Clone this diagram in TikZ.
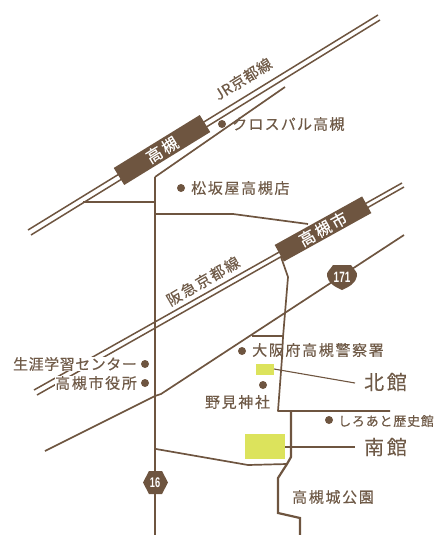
\documentclass[tikz,border=0pt]{standalone}
\usepackage{fontspec}
\setmainfont{Noto Sans CJK JP}
\newfontfamily\jpa[LetterSpace=11,FakeBold=0.25]{Noto Sans CJK JP}
\newfontfamily\jpb[LetterSpace=6,FakeBold=0.25]{Noto Sans CJK JP}
\newfontfamily\jpc[LetterSpace=3.5,FakeBold=0.25]{Noto Sans CJK JP}
\newfontfamily\jpe[LetterSpace=8,FakeBold=0.25]{Noto Sans CJK JP}
\newfontfamily\jpd[LetterSpace=14,FakeBold=0.25]{Noto Sans CJK JP}
\newfontfamily\numf[FakeStretch=0.66]{Liberation Sans Bold}
\definecolor{brownline}{HTML}{6E5540}
\definecolor{browntext}{HTML}{6F5A47}
\definecolor{hall}{HTML}{DCE35C}
\tikzset{
  railline/.style={draw=brownline,line width=1.5pt},
  road/.style={draw=brownline,line width=1.7pt,line join=round},
  mainroad/.style={draw=brownline,line width=2.2pt},
  leader/.style={draw=brownline,line width=1.1pt},
  label/.style={text=browntext,inner sep=0pt,font=\fontsize{15}{15}\selectfont\jpa},
  tightlabel/.style={text=browntext,inner sep=0pt,font=\fontsize{15}{15}\selectfont\jpc},
  widelabel/.style={text=browntext,inner sep=0pt,font=\fontsize{15}{15}\selectfont\jpe},
  smalllabel/.style={text=browntext,inner sep=0pt,font=\fontsize{13}{13}\selectfont\jpb},
  biglabel/.style={text=browntext,inner sep=0pt,font=\fontsize{20}{20}\selectfont\jpd},
  spot/.style={circle,fill=brownline,minimum size=8pt,inner sep=0pt},
  station/.style={fill=brownline,text=white,inner sep=0pt,minimum height=20pt,font=\fontsize{16}{16}\selectfont\jpd},
  hallbox/.style={fill=hall,inner sep=0pt},
  masked/.style={fill=white,minimum height=14pt},
}
\begin{document}
\begin{tikzpicture}[x=1pt,y=-1pt]
\useasboundingbox (0,0) rectangle (435,535);
% coordinates
\coordinate (jra) at (28,230); \coordinate (jrb) at (378,15);
\coordinate (jrc) at (31,235); \coordinate (jrd) at (380,20);
\coordinate (ra) at (155,177); \coordinate (rb) at (285,87);
\coordinate (v0) at (155,535);
\coordinate (ha) at (34,390); \coordinate (hb) at (402,183);
\coordinate (hc) at (37,395); \coordinate (hd) at (404,187);
\coordinate (k1) at (45,451); \coordinate (k2) at (155,396); \coordinate (k3) at (161,394); \coordinate (k4) at (404,235);
% roads
\draw[railline] (jra)--(jrb);
\draw[railline] (jrc)--(jrd);
\draw[railline] (ha)--(hb);
\draw[railline] (hc)--(hd);
\node[tightlabel,masked,anchor=east] (t6) at (137,364) {生涯学習センター};
\node[label,masked,anchor=east] (t7) at (137,383) {高槻市役所};
\draw[mainroad] (v0)--(ra);
\draw[road] (ra)--(rb);
\draw[road] (k1)--(k2)--(k3)--(k4);
\draw[road] (83,202)--(155,202);
\draw[road] (155,214)--(233,214)--(308,224);
\draw[road] (281,257)--(288,277)--(283,337)--(282,358)--(278,411)--(390,411);
\draw[road] (252,336)--(283,336);
\draw[mainroad] (291,411)--(291,457)--(287,464)--(278,478)--(278,513)--(300,518)--(300,535);
\draw[road] (156,449)--(248,465)--(287,464);
% halls
\path[hallbox] (256,364) rectangle (274,375);
\path[hallbox] (245,434) rectangle (285,459);
\draw[leader] (274,369)--(355,383);
\draw[leader] (285,447)--(355,447);
% stations
\node[station,rotate=31.6,minimum width=101pt] (st1) at (162,150) {高槻};
\node[station,rotate=29,minimum width=100pt,minimum height=19pt] (st2) at (323,229) {高槻市};
% shields
\path[fill=brownline] (333,265)--(351,265) .. controls (354,270) and (358,272) .. (357,276)
  .. controls (356,283) and (349,287) .. (342,290)
  .. controls (335,287) and (328,283) .. (327,276)
  .. controls (326,272) and (330,270) .. (333,265) -- cycle;
\node[text=white,inner sep=0pt,font=\fontsize{15}{15}\selectfont\numf] (s171) at (342,277) {171};
\path[fill=brownline] (143,482.5)--(149,471)--(162,471)--(168,482.5)--(162,494)--(149,494)--cycle;
\node[text=white,inner sep=0pt,font=\fontsize{14}{14}\selectfont\numf] (s16) at (155,482.5) {16};
% spots
\node[spot] (d1) at (222,124) {};
\node[spot] (d2) at (181,188) {};
\node[spot] (d3) at (242,351) {};
\node[spot] (d4) at (263,385) {};
\node[spot] (d5) at (145,364) {};
\node[spot] (d6) at (145,383) {};
\node[spot] (d7) at (329,420) {};
% labels
\node[widelabel,anchor=west] (t1) at (232,124) {クロスパル高槻};
\node[label,anchor=west] (t2) at (191,188) {松坂屋高槻店};
\node[label,anchor=west] (t3) at (252,350) {大阪府高槻警察署};
\node[label,anchor=center] (t4) at (237.5,402) {野見神社};
\node[label,anchor=center] (t5) at (333,497) {高槻城公園};
\node[smalllabel,anchor=west] (t8) at (338,421) {しろあと歴史館};
\node[biglabel] (t9) at (385.5,382) {北館};
\node[biglabel] (t10) at (385.5,447) {南館};
\node[tightlabel,rotate=32] (t11) at (243,79) {JR京都線};
\node[label,rotate=30] (t12) at (203,281) {阪急京都線};
\end{tikzpicture}
\end{document}
